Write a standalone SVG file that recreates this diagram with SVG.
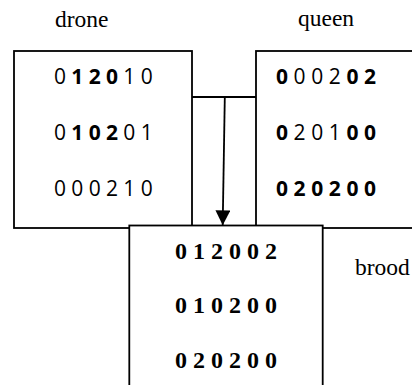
<svg xmlns="http://www.w3.org/2000/svg" width="412" height="385" viewBox="0 0 412 385">
  <style>
    .box { fill: #ffffff; stroke: #000000; stroke-width: 1.8; }
    .link { fill: none; stroke: #000000; stroke-width: 1.8; }
    .label { font-family: "Liberation Serif", "Times New Roman", serif; font-size: 23.5px; fill: #000000; }
    .dig { font-family: "Open Sans", "Noto Sans", sans-serif; font-size: 21px; fill: #000000; text-anchor: middle; }
    .b { font-weight: bold; }
    .res { font-family: "Liberation Serif", "Times New Roman", serif; font-size: 24px; font-weight: bold; fill: #000000; text-anchor: middle; }
  </style>
  <defs>
    <marker id="arrowhead" markerUnits="userSpaceOnUse" markerWidth="16" markerHeight="16" refX="15" refY="7.5" orient="auto">
      <path d="M0,0 L15,7.5 L0,15 z" fill="#000000"/>
    </marker>
  </defs>

  <!-- drone parent -->
  <g id="drone">
    <text class="label" x="55" y="27">drone</text>
    <rect class="box" x="14" y="51" width="178" height="177"/>
    <text class="dig" y="84"><tspan x="60">0</tspan><tspan class="b" x="77.3">1</tspan><tspan class="b" x="94.7">2</tspan><tspan class="b" x="112">0</tspan><tspan x="129.3">1</tspan><tspan x="146.7">0</tspan></text>
    <text class="dig" y="140"><tspan x="60">0</tspan><tspan class="b" x="77.3">1</tspan><tspan class="b" x="94.7">0</tspan><tspan class="b" x="112">2</tspan><tspan x="129.3">0</tspan><tspan x="146.7">1</tspan></text>
    <text class="dig" y="196"><tspan x="60">0</tspan><tspan x="77.3">0</tspan><tspan x="94.7">0</tspan><tspan x="112">2</tspan><tspan x="129.3">1</tspan><tspan x="146.7">0</tspan></text>
  </g>

  <!-- queen parent -->
  <g id="queen">
    <text class="label" x="298" y="26">queen</text>
    <rect class="box" x="256" y="51" width="170" height="177"/>
    <text class="dig" y="84"><tspan class="b" x="282">0</tspan><tspan x="299.6">0</tspan><tspan x="317.2">0</tspan><tspan x="334.8">2</tspan><tspan class="b" x="352.4">0</tspan><tspan class="b" x="370">2</tspan></text>
    <text class="dig" y="140"><tspan class="b" x="282">0</tspan><tspan x="299.6">2</tspan><tspan x="317.2">0</tspan><tspan x="334.8">1</tspan><tspan class="b" x="352.4">0</tspan><tspan class="b" x="370">0</tspan></text>
    <text class="dig b" y="196"><tspan x="282">0</tspan><tspan x="299.6">2</tspan><tspan x="317.2">0</tspan><tspan x="334.8">2</tspan><tspan x="352.4">0</tspan><tspan x="370">0</tspan></text>
  </g>

  <!-- connectors -->
  <g id="connectors">
    <line class="link" x1="192" y1="97" x2="256" y2="97"/>
    <line class="link" x1="224.8" y1="97" x2="222.7" y2="225.3" marker-end="url(#arrowhead)"/>
  </g>

  <!-- brood offspring -->
  <g id="brood">
    <rect class="box" x="129.3" y="225.5" width="193.4" height="170"/>
    <text class="res" x="226" y="259">0 1 2 0 0 2</text>
    <text class="res" x="226" y="313">0 1 0 2 0 0</text>
    <text class="res" x="226" y="368">0 2 0 2 0 0</text>
    <text class="label" x="355" y="275">brood</text>
  </g>
</svg>
